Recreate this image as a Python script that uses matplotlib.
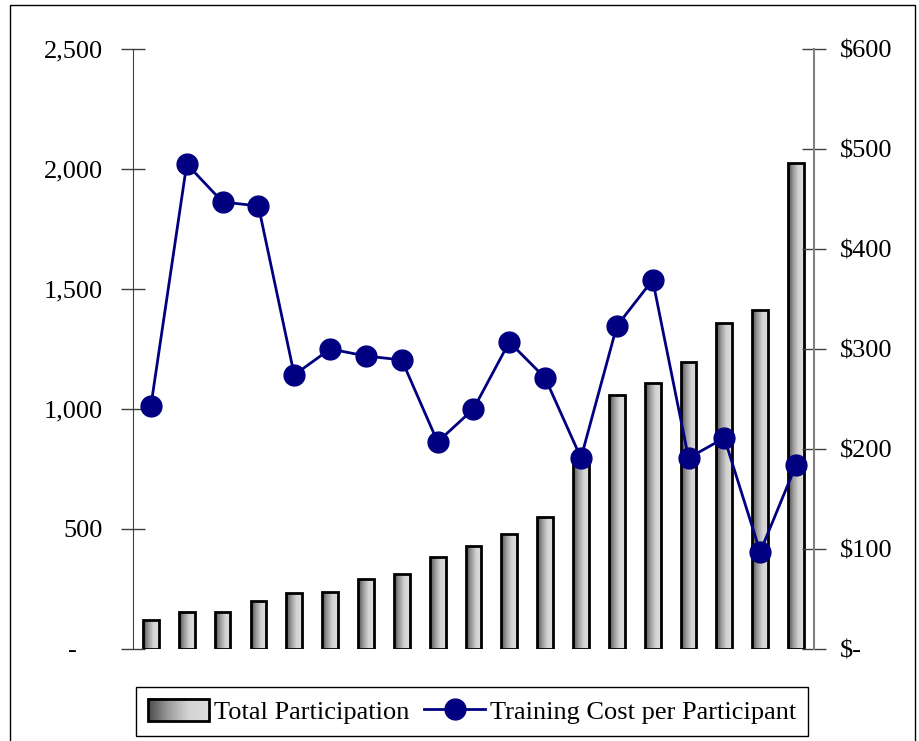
import numpy as np
import matplotlib
matplotlib.use('Agg')
import matplotlib.pyplot as plt
from matplotlib.patches import Rectangle
from matplotlib.lines import Line2D
from matplotlib.legend_handler import HandlerBase
from matplotlib.image import BboxImage
from matplotlib.transforms import Bbox, TransformedBbox
from matplotlib.colors import LinearSegmentedColormap

# data
participation = [120, 153, 153, 200, 232, 237, 292, 311, 383, 429, 481, 550,
                 800, 1058, 1107, 1195, 1358, 1413, 2023]
cost_per_participant = [243, 485, 447, 443, 274, 300, 293, 289, 207, 240, 307,
                        271, 191, 323, 369, 191, 211, 97, 184]
left_ticks = [0, 500, 1000, 1500, 2000, 2500]
left_labels = ['-    ', '500', '1,000', '1,500', '2,000', '2,500']
right_ticks = [0, 100, 200, 300, 400, 500, 600]
right_labels = ['$-', '$100', '$200', '$300', '$400', '$500', '$600']

plt.rcParams['font.family'] = ['Liberation Serif', 'DejaVu Serif']
FS = 19

grad_cmap = LinearSegmentedColormap.from_list('bar', ['#4c4c4c', '#9c9c9c', '#d4d4d4', '#dcdcdc'])
grad = np.linspace(0, 1, 64).reshape(1, -1)

fig = plt.figure(figsize=(9.19, 7.41), dpi=100)
ax = fig.add_axes([0.1447, 0.1242, 0.7410, 0.8097])

x = np.arange(len(participation))
bars = ax.bar(x, participation, width=0.44, facecolor='none',
              edgecolor='black', linewidth=2.0, zorder=3)
for b in bars:
    x0, y0 = b.get_x(), b.get_y()
    im = ax.imshow(grad, cmap=grad_cmap, aspect='auto', zorder=2,
                   extent=(x0, x0 + b.get_width(), y0, y0 + b.get_height()),
                   interpolation='bilinear')
    im.set_clip_path(b)

ax.set_xlim(-0.5, len(participation) - 0.5)
ax.set_ylim(0, 2500)
ax.set_yticks(left_ticks)
ax.set_yticklabels(left_labels)
ax.set_xticks([])
for s in ['top', 'bottom', 'right']:
    ax.spines[s].set_visible(False)
ax.spines['left'].set_color('#404040')
ax.tick_params(axis='y', direction='inout', length=17, width=1,
               color='#404040', labelsize=FS, pad=13)

ax2 = ax.twinx()
ax2.plot(x, cost_per_participant, color='#000080', linewidth=2,
         marker='o', markersize=15, zorder=5)
ax2.set_ylim(0, 600)
ax2.set_yticks(right_ticks)
ax2.set_yticklabels(right_labels)
for s in ['top', 'bottom', 'left']:
    ax2.spines[s].set_visible(False)
ax2.spines['right'].set_color('#808080')
ax2.spines['right'].set_linewidth(1.5)
ax2.tick_params(axis='y', direction='inout', length=17, width=1,
                color='#404040', labelsize=FS, pad=10)


class GradientHandler(HandlerBase):
    def create_artists(self, legend, orig_handle, xdescent, ydescent,
                       width, height, fontsize, trans):
        bb = TransformedBbox(Bbox.from_bounds(-xdescent, -ydescent, width, height), trans)
        img = BboxImage(bb, cmap=grad_cmap, interpolation='bilinear')
        img.set_data(grad)
        rect = Rectangle((-xdescent, -ydescent), width, height, facecolor='none',
                         edgecolor='black', linewidth=2, transform=trans)
        return [img, rect]


bar_handle = Rectangle((0, 0), 1, 1)
line_handle = Line2D([], [], color='#000080', linewidth=2, marker='o', markersize=15)
leg = fig.legend([bar_handle, line_handle],
                 ['Total Participation', 'Training Cost per Participant'],
                 handler_map={Rectangle: GradientHandler()},
                 loc='center', bbox_to_anchor=(0.514, 0.040), ncol=2,
                 fontsize=FS, frameon=True, fancybox=False, edgecolor='black',
                 framealpha=1, borderpad=0.45, handlelength=2.3, handleheight=0.95,
                 handletextpad=0.2, columnspacing=0.55, borderaxespad=0)
leg.get_frame().set_linewidth(1)

# outer border of the chart area
fig.add_artist(Rectangle((0.0109, -0.1), 0.9847, 1.0933, transform=fig.transFigure,
                         facecolor='none', edgecolor='black', linewidth=1))

fig.savefig('out.png', dpi=100)
